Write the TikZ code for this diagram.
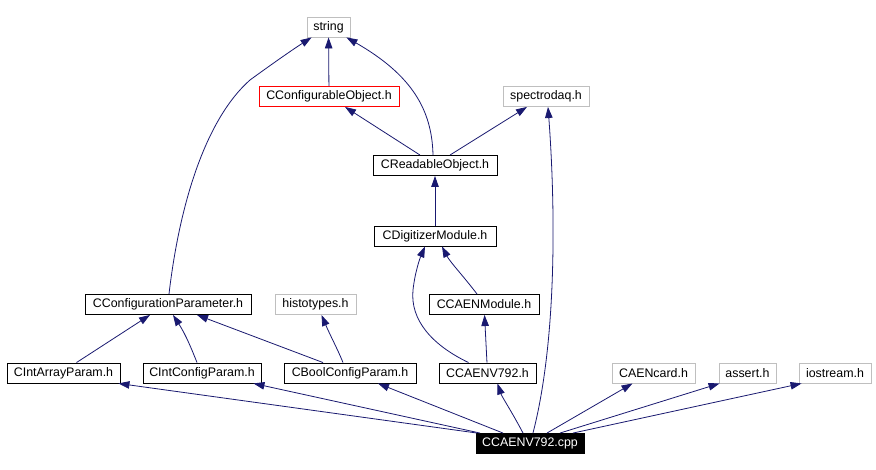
\documentclass[tikz,border=0pt]{standalone}
\usepackage{fontspec}
\setmainfont{Liberation Sans}
\usetikzlibrary{arrows.meta}
\definecolor{edgecol}{HTML}{191970}
\definecolor{graybox}{HTML}{BFBFBF}
\begin{document}
\begin{tikzpicture}[x=1pt,y=-1pt,
  font=\fontsize{12.4}{14}\selectfont,
  box/.style={draw=black, line width=0.9pt, minimum height=20pt, inner sep=0pt, fill=white, text=black},
  grayb/.style={box, draw=graybox},
  redb/.style={box, draw=red},
  fileb/.style={box, fill=black, text=white},
  edge/.style={draw=edgecol, line width=0.8pt, -{Triangle[length=11pt,width=7.5pt]}}]
\useasboundingbox[fill=white] (0,0) rectangle (876,470);
% nodes
\node[grayb, minimum width=43pt] (string) at (328.5,27) {string};
\node[redb, minimum width=140pt] (cobj) at (329,96.5) {CConfigurableObject.h};
\node[grayb, minimum width=86pt] (spdaq) at (546,96.5) {spectrodaq.h};
\node[box, minimum width=124pt] (readable) at (435,165.5) {CReadableObject.h};
\node[box, minimum width=122pt] (digit) at (435,236) {CDigitizerModule.h};
\node[box, minimum width=110pt] (caenmod) at (484,304.5) {CCAENModule.h};
\node[box, minimum width=166pt] (cparam) at (168,304.5) {CConfigurationParameter.h};
\node[grayb, minimum width=81pt] (histo) at (315.5,304.5) {histotypes.h};
\node[box, minimum width=113pt] (carray) at (63.5,373) {CIntArrayParam.h};
\node[box, minimum width=118pt] (cint) at (202,373) {CIntConfigParam.h};
\node[box, minimum width=132pt] (cbool) at (350,373) {CBoolConfigParam.h};
\node[box, minimum width=97pt] (v792h) at (487.5,373) {CCAENV792.h};
\node[grayb, minimum width=83pt] (caencard) at (653.5,373) {CAENcard.h};
\node[grayb, minimum width=57pt] (assert) at (747.5,373) {assert.h};
\node[grayb, minimum width=72pt] (iostream) at (835,373) {iostream.h};
\node[fileb, minimum width=108pt] (cpp) at (530,443.5) {CCAENV792.cpp};
% edges
\draw[edge] (cobj) -- (string);
\draw[edge] ([xshift=-2pt]readable.north) .. controls (432,110) and (412,75) .. ([xshift=-4pt]string.south east);
\draw[edge] ([xshift=-15pt]readable.north) -- ([xshift=16pt]cobj.south);
\draw[edge] ([xshift=15pt]readable.north) -- ([xshift=-19pt]spdaq.south);
\draw[edge] ([xshift=1pt]cparam.north) .. controls (180,200) and (207,118) .. (250,80) .. controls (272,64) and (292,50) .. ([xshift=5pt]string.south west);
\draw[edge] (digit) -- (readable);
\draw[edge] ([xshift=-7pt]caenmod.north) .. controls (465,278) and (450,262) .. ([xshift=7pt]digit.south);
\draw[edge] (v792h) -- (caenmod);
\draw[edge] ([xshift=-19pt]v792h.north) .. controls (432,345) and (410,320) .. (413,290) .. controls (415,272) and (420,258) .. ([xshift=-10pt]digit.south);
\draw[edge] ([xshift=13pt]carray.north) -- ([xshift=-18pt]cparam.south);
\draw[edge] ([xshift=-5pt]cint.north) .. controls (192,350) and (186,335) .. ([xshift=5pt]cparam.south);
\draw[edge] ([xshift=-27pt]cbool.north) -- ([xshift=29pt]cparam.south);
\draw[edge] ([xshift=-7pt]cbool.north) .. controls (338,350) and (330,335) .. ([xshift=6pt]histo.south);
\draw[edge] ([xshift=-53pt]cpp.north) -- ([xshift=-2pt]carray.south east);
\draw[edge] ([xshift=-50pt]cpp.north) -- ([xshift=-8pt]cint.south east);
\draw[edge] ([xshift=-27pt]cpp.north) -- ([xshift=28pt]cbool.south);
\draw[edge] ([xshift=-7pt]cpp.north) .. controls (512,412) and (502,397) .. ([xshift=10pt]v792h.south);
\draw[edge] ([xshift=3pt]cpp.north) .. controls (562,320) and (552,160) .. ([xshift=2pt]spdaq.south);
\draw[edge] ([xshift=17pt]cpp.north) -- ([xshift=-21pt]caencard.south);
\draw[edge] ([xshift=30pt]cpp.north) -- ([xshift=1pt]assert.south west);
\draw[edge] ([xshift=43pt]cpp.north) -- ([xshift=3pt]iostream.south west);
\end{tikzpicture}
\end{document}
